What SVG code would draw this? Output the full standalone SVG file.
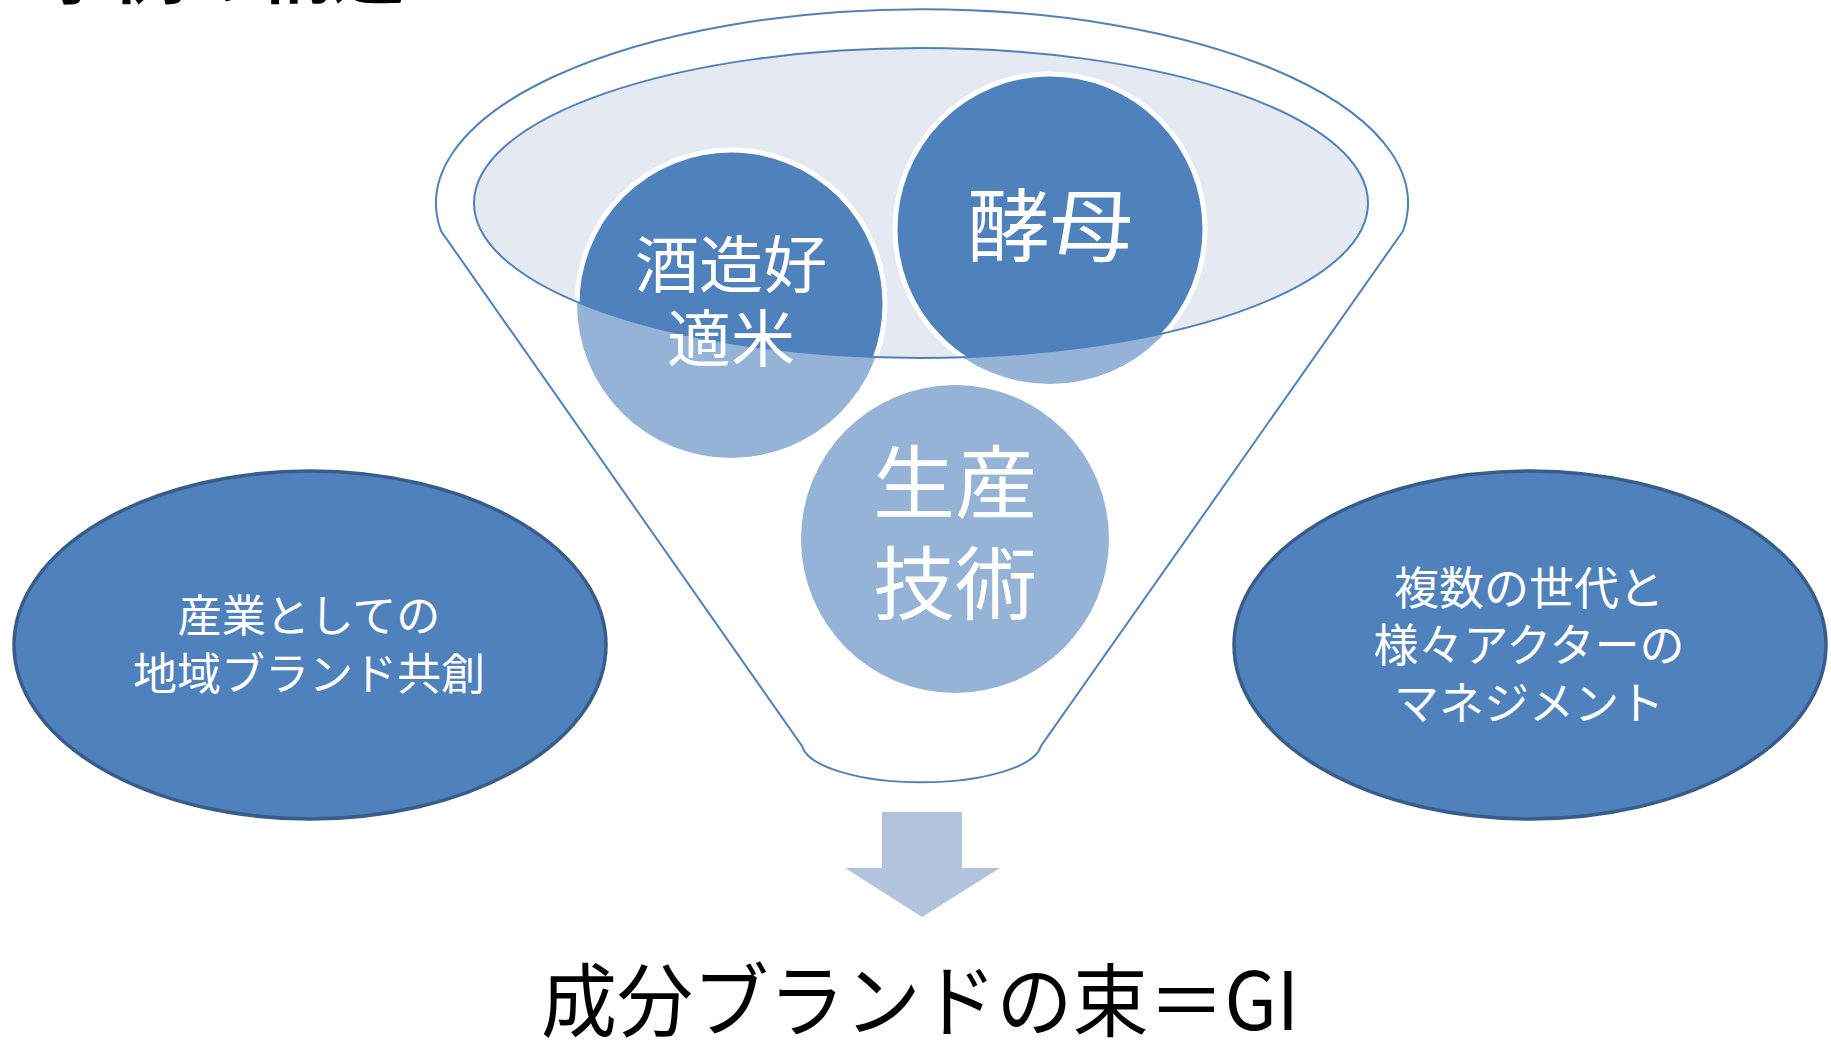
<svg xmlns="http://www.w3.org/2000/svg" width="1831" height="1044" viewBox="0 0 1831 1044">
<style>
  .jp{font-family:"Noto Sans CJK JP","Noto Sans CJK SC",sans-serif}
  .wt{fill:#FFFFFF;text-anchor:middle}
  .side{fill:#4F81BD;stroke:#385D8A;stroke-width:3.5}
  .light{fill:#95B3D7}
  .dark{fill:#4F81BD;stroke:#FFFFFF;stroke-width:5}
  .outline{fill:none;stroke:#4F81BD;stroke-width:2}
</style>
<defs>
  <clipPath id="innerClip"><ellipse cx="921" cy="203" rx="447" ry="155"/></clipPath>
</defs>
<rect x="0" y="0" width="1831" height="1044" fill="#FFFFFF"/>

<g id="title">
  <text class="jp" x="40" y="-3" font-size="72" font-weight="bold" fill="#000000" textLength="365" lengthAdjust="spacingAndGlyphs">事例の構造</text>
</g>

<g id="funnel">
  <path d="M441,231 A486,194 0 1 1 1403,231 L1041,746 A120,40 0 0 1 802,746 Z" fill="#FFFFFF" stroke="#4F81BD" stroke-width="2"/>
  <ellipse cx="921" cy="203" rx="447" ry="155" fill="#E4E9F2"/>
</g>

<g id="node-sake-rice">
  <circle class="light" cx="731" cy="304" r="154"/>
  <circle class="dark" cx="731" cy="304" r="154" clip-path="url(#innerClip)"/>
</g>
<g id="node-yeast">
  <circle class="light" cx="1050" cy="229" r="155"/>
  <circle class="dark" cx="1050" cy="229" r="155" clip-path="url(#innerClip)"/>
</g>
<g id="node-technique">
  <circle class="light" cx="955" cy="539" r="154"/>
</g>

<ellipse id="funnel-rim" class="outline" cx="921" cy="203" rx="447" ry="155"/>

<g id="labels-circles" class="jp">
  <text class="wt" x="731" y="288" font-size="62" textLength="192" lengthAdjust="spacingAndGlyphs">酒造好</text>
  <text class="wt" x="731" y="362" font-size="62" textLength="128" lengthAdjust="spacingAndGlyphs">適米</text>
  <text class="wt" x="1050" y="255" font-size="80" textLength="166" lengthAdjust="spacingAndGlyphs">酵母</text>
  <text class="wt" x="955" y="512" font-size="80" textLength="164" lengthAdjust="spacingAndGlyphs">生産</text>
  <text class="wt" x="955" y="613" font-size="80" textLength="164" lengthAdjust="spacingAndGlyphs">技術</text>
</g>

<g id="node-left">
  <ellipse class="side" cx="310" cy="645" rx="296" ry="174"/>
  <text class="jp wt" x="309" y="632" font-size="44">産業としての</text>
  <text class="jp wt" x="309" y="690" font-size="44">地域ブランド共創</text>
</g>

<g id="node-right">
  <ellipse class="side" cx="1530" cy="645" rx="296" ry="174"/>
  <text class="jp wt" x="1529" y="605" font-size="45">複数の世代と</text>
  <text class="jp wt" x="1529" y="662" font-size="45">様々アクターの</text>
  <text class="jp wt" x="1529" y="720" font-size="45">マネジメント</text>
</g>

<g id="connectors">
  <polygon points="882,812 962,812 962,868 1000,868 922,917 845,868 882,868" fill="#B2C3DE"/>
</g>

<g id="node-result">
  <text class="jp" x="541" y="1030" font-size="80" fill="#000000" textLength="758" lengthAdjust="spacingAndGlyphs">成分ブランドの束＝GI</text>
</g>
</svg>
